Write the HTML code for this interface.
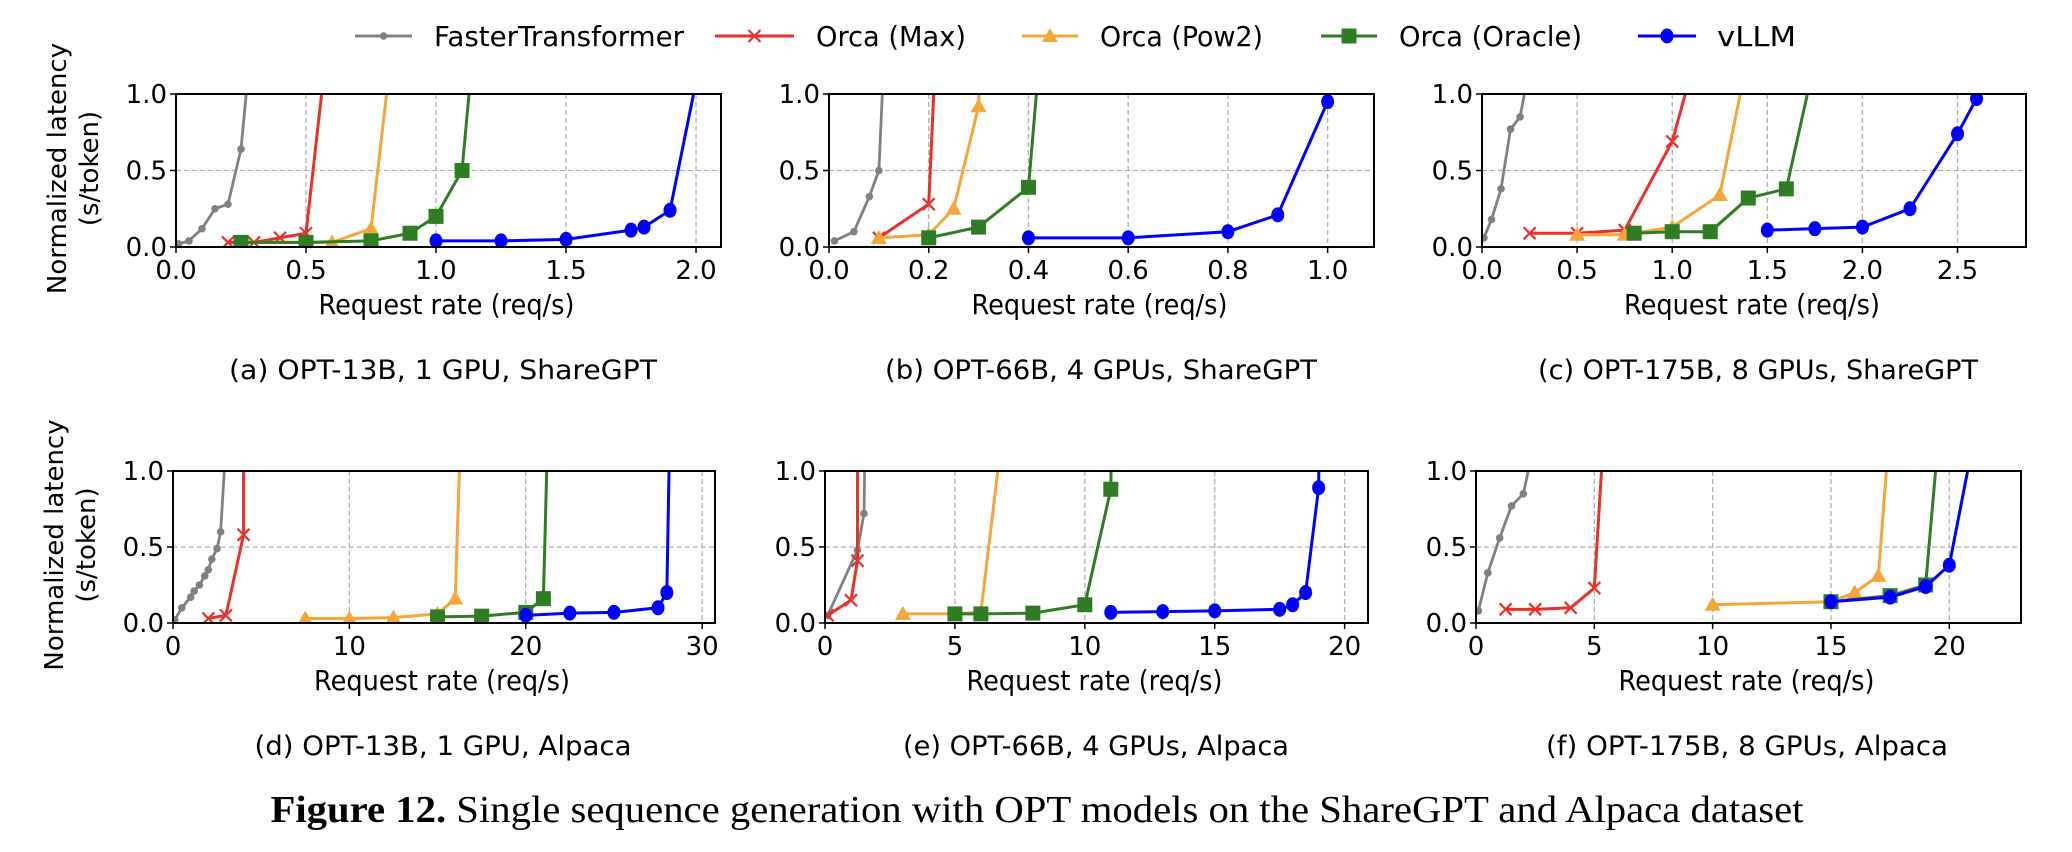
<!DOCTYPE html>
<html><head><meta charset="utf-8">
<style>
html,body{margin:0;padding:0;background:#fff;}
svg{display:block;}
text{font-family:"DejaVu Sans","Liberation Sans",sans-serif;fill:#000;}
</style></head>
<body>
<svg id="fig" width="2072" height="852" viewBox="0 0 2072 852" xmlns="http://www.w3.org/2000/svg">
<g id="legend"></g>
<g id="panels"></g>
<text x="1037" y="822" text-anchor="middle" textLength="1533" lengthAdjust="spacingAndGlyphs" style="font-family:'Liberation Serif',serif;font-size:38px"><tspan font-weight="bold">Figure 12.</tspan> Single sequence generation with OPT models on the ShareGPT and Alpaca dataset</text>
</svg>
<script>
// ---- data ----
const seriesNames = ["FasterTransformer","Orca (Max)","Orca (Pow2)","Orca (Oracle)","vLLM"];
const panelCaptions = ["(a) OPT-13B, 1 GPU, ShareGPT","(b) OPT-66B, 4 GPUs, ShareGPT","(c) OPT-175B, 8 GPUs, ShareGPT","(d) OPT-13B, 1 GPU, Alpaca","(e) OPT-66B, 4 GPUs, Alpaca","(f) OPT-175B, 8 GPUs, Alpaca"];
const xMaxes = [2.096, 1.093, 2.86, 30.73, 20.9, 23.03];
const xTicksA = [0,0.5,1.0,1.5,2.0];
const xTicksB = [0,0.2,0.4,0.6,0.8,1.0];
const xTicksC = [0,0.5,1.0,1.5,2.0,2.5];
const xTicksD = [0,10,20,30];
const xTicksE = [0,5,10,15,20];
const xTicksF = [0,5,10,15,20];
const yTicks = [0,0.5,1.0];
// panel a
const aFT=[[0.01,0.02],[0.05,0.04],[0.1,0.12],[0.15,0.25],[0.2,0.28],[0.25,0.64],[0.298,1.5]];
const aMax=[[0.2,0.03],[0.3,0.03],[0.4,0.06],[0.5,0.09],[0.593,1.5]];
const aPow2=[[0.25,0.03],[0.5,0.03],[0.6,0.03],[0.75,0.12],[0.844,1.5]];
const aOracle=[[0.25,0.03],[0.5,0.03],[0.75,0.04],[0.9,0.09],[1.0,0.2],[1.1,0.5],[1.154,1.5]];
const aVLLM=[[1.0,0.04],[1.25,0.04],[1.5,0.05],[1.75,0.11],[1.8,0.13],[1.9,0.24],[2.05,1.5]];
// panel b
const bFT=[[0.011,0.04],[0.05,0.1],[0.081,0.33],[0.1,0.5],[0.114,1.5]];
const bMax=[[0.1,0.06],[0.2,0.28],[0.217,1.5]];
const bPow2=[[0.1,0.06],[0.2,0.08],[0.25,0.25],[0.3,0.92],[0.305,1.5]];
const bOracle=[[0.2,0.06],[0.3,0.13],[0.4,0.39],[0.429,1.5]];
const bVLLM=[[0.4,0.06],[0.6,0.06],[0.8,0.1],[0.9,0.21],[1.0,0.95],[1.015,1.5]];
// panel c
const cFT=[[0.01,0.06],[0.05,0.18],[0.1,0.38],[0.15,0.77],[0.2,0.85],[0.3,1.5]];
const cMax=[[0.25,0.09],[0.5,0.09],[0.75,0.11],[1.0,0.69],[1.18,1.5]];
const cPow2=[[0.5,0.08],[0.75,0.08],[1.0,0.13],[1.25,0.34],[1.44,1.5]];
const cOracle=[[0.8,0.09],[1.0,0.1],[1.2,0.1],[1.4,0.32],[1.6,0.38],[1.8,1.5]];
const cVLLM=[[1.5,0.11],[1.75,0.12],[2.0,0.13],[2.25,0.25],[2.5,0.74],[2.6,0.97],[2.63,1.5]];
// panel d
const dFT=[[0.1,0.02],[0.5,0.1],[1.0,0.17],[1.2,0.21],[1.5,0.25],[1.8,0.31],[2.0,0.35],[2.2,0.42],[2.5,0.49],[2.7,0.6],[3.17,1.5]];
const dMax=[[2,0.03],[3,0.05],[4,0.58],[4.0,1.5]];
const dPow2=[[7.5,0.03],[10,0.03],[12.5,0.035],[15,0.06],[16,0.16],[16.38,1.5]];
const dOracle=[[15,0.04],[17.5,0.045],[20,0.07],[21,0.16],[21.3,1.5]];
const dVLLM=[[20,0.05],[22.5,0.065],[25,0.07],[27.5,0.1],[28,0.2],[28.2,1.5]];
// panel e
const eFT=[[0.1,0.05],[1.25,0.48],[1.5,0.72],[1.57,1.5]];
const eMax=[[0.1,0.05],[1.0,0.15],[1.25,0.41],[1.25,1.5]];
const ePow2=[[3,0.06],[5,0.06],[6,0.07],[7.0,1.5]];
const eOracle=[[5,0.06],[6,0.06],[8,0.065],[10,0.12],[11,0.88],[11.05,1.5]];
const eVLLM=[[11,0.07],[13,0.075],[15,0.08],[17.5,0.09],[18,0.12],[18.5,0.2],[19,0.89],[19.05,1.5]];
// panel f
const fFT=[[0.1,0.08],[0.5,0.33],[1.0,0.56],[1.5,0.77],[2.0,0.85],[2.9,1.5]];
const fMax=[[1.25,0.09],[2.5,0.09],[4,0.1],[5,0.23],[5.5,1.5]];
const fPow2=[[10,0.12],[15,0.14],[16,0.2],[17,0.31],[17.59,1.5]];
const fOracle=[[15,0.14],[17.5,0.18],[19,0.25],[19.7,1.5]];
const fVLLM=[[15,0.14],[17.5,0.17],[19,0.24],[20,0.38],[21.4,1.5]];

const panelSeries=[[aFT,aMax,aPow2,aOracle,aVLLM],[bFT,bMax,bPow2,bOracle,bVLLM],[cFT,cMax,cPow2,cOracle,cVLLM],[dFT,dMax,dPow2,dOracle,dVLLM],[eFT,eMax,ePow2,eOracle,eVLLM],[fFT,fMax,fPow2,fOracle,fVLLM]];
const panelTicks=[xTicksA,xTicksB,xTicksC,xTicksD,xTicksE,xTicksF];

// ---- layout ----
const NS="http://www.w3.org/2000/svg";
const colors=["#808080","#e8312a","#f5a53a","#2f7d22","#0000ff"];
const boxes=[[176,94,721,247],[829,94,1374,247],[1482,94,2026,247],[173,471,715,623],[825,471,1368,623],[1476,471,2021,623]];
const capCenters=[443,1101,1758,443,1096,1747];
const capWidths=[428,432,440,377,386,402];
const panelsG=document.getElementById('panels');
function mk(tag,attrs,parent){const e=document.createElementNS(NS,tag);for(const k in attrs)e.setAttribute(k,attrs[k]);parent.appendChild(e);return e;}
function fmt(v,t){return (t[t.length-1]>=5)?String(v):v.toFixed(1);}
const slug=["faster-transformer","orca-max","orca-pow2","orca-oracle","vllm"];
function marker(si,x,y,g){
  let m;
  if(si===0){m=mk('circle',{cx:x,cy:y,r:3.8,fill:colors[0]},g);}
  else if(si===1){const s=6;m=mk('path',{d:`M${x-s},${y-s}L${x+s},${y+s}M${x-s},${y+s}L${x+s},${y-s}`,stroke:colors[1],'stroke-width':2.2,fill:'none'},g);}
  else if(si===2){const s=8;m=mk('polygon',{points:`${x},${y-s} ${x+s},${y+s*0.75} ${x-s},${y+s*0.75}`,fill:colors[2]},g);}
  else if(si===3){const s=7.5;m=mk('rect',{x:x-s,y:y-s,width:2*s,height:2*s,fill:colors[3]},g);}
  else {m=mk('ellipse',{cx:x,cy:y,rx:6.5,ry:7.5,fill:colors[4]},g);}
  return m;
}
panelSeries.forEach((ser,pi)=>{
  const [L,T,R,B]=boxes[pi];
  const xm=xMaxes[pi], ticks=panelTicks[pi];
  const sx=v=>L+(R-L)*v/xm, sy=v=>B-(B-T)*v;
  const g=mk('g',{},panelsG);
  
  
  const cp=mk('clipPath',{id:'clip'+pi},g);
  mk('rect',{x:L,y:T,width:R-L,height:B-T},cp);
  ticks.forEach(t=>{const gl=mk('line',{x1:sx(t),x2:sx(t),y1:T,y2:B,stroke:'#b0b0b0','stroke-width':1.3,'stroke-dasharray':'5,3'},g);});
  yTicks.forEach(t=>{const gl=mk('line',{x1:L,x2:R,y1:sy(t),y2:sy(t),stroke:'#b0b0b0','stroke-width':1.3,'stroke-dasharray':'5,3'},g);});
  const sg=mk('g',{'clip-path':`url(#clip${pi})`},g);
  ser.forEach((pts,si)=>{
    const sgg=mk('g',{},sg);
    
    
    mk('polyline',{points:pts.map(p=>sx(p[0])+','+sy(p[1])).join(' '),fill:'none',stroke:colors[si],'stroke-width':si===0?2.8:3,'stroke-linejoin':'round'},sgg);
    pts.forEach(p=>{const m=marker(si,sx(p[0]),sy(p[1]),sgg);});
  });
  const fr=mk('rect',{x:L,y:T,width:R-L,height:B-T,fill:'none',stroke:'#000','stroke-width':2},g);
  
  ticks.forEach(t=>{
    mk('line',{x1:sx(t),x2:sx(t),y1:B,y2:B+6,stroke:'#000','stroke-width':1.5},g);
    const tx=mk('text',{x:sx(t),y:B+32,'text-anchor':'middle','font-size':26},g);
    tx.textContent=fmt(t,ticks);
    
  });
  yTicks.forEach(t=>{
    mk('line',{x1:L-6,x2:L,y1:sy(t),y2:sy(t),stroke:'#000','stroke-width':1.5},g);
    const tx=mk('text',{x:L-9,y:sy(t)+9,'text-anchor':'end','font-size':26},g);
    tx.textContent=t.toFixed(1);
    
  });
  const cx=(L+R)/2;
  const xl=mk('text',{x:cx-2,y:B+67,'text-anchor':'middle','font-size':28,textLength:256,lengthAdjust:'spacingAndGlyphs'},g);
  xl.textContent='Request rate (req/s)';
  
  const cap=mk('text',{x:capCenters[pi],y:B+132,'text-anchor':'middle','font-size':27,textLength:capWidths[pi],lengthAdjust:'spacingAndGlyphs'},g);
  cap.textContent=panelCaptions[pi];
  
  if(pi%3===0){
    const cy=(T+B)/2;
    const y1=mk('text',{x:0,y:0,'text-anchor':'middle','font-size':26,transform:`translate(${L-110},${cy-2}) rotate(-90)`},g);
    y1.textContent='Normalized latency';
    
    const y2=mk('text',{x:0,y:0,'text-anchor':'middle','font-size':26,transform:`translate(${L-78},${cy-2}) rotate(-90)`},g);
    y2.textContent='(s/token)';
    
  }
});
const legG=document.getElementById('legend');
const legLine=[[355,412,434],[715,794,816],[1022,1078,1100],[1321,1377,1399],[1638,1696,1717]];
const legWidths=[250,150,163,183,79];
seriesNames.forEach((n,si)=>{
  const [a,b,t]=legLine[si];
  const eg=mk('g',{},legG);
  
  
  mk('line',{x1:a,x2:b,y1:36,y2:36,stroke:colors[si],'stroke-width':3},eg);
  marker(si,(a+b)/2,36,eg);
  const tx=mk('text',{x:t,y:46,'font-size':28,textLength:legWidths[si],lengthAdjust:'spacingAndGlyphs'},eg);
  tx.textContent=n;
});
</script>
</body></html>
